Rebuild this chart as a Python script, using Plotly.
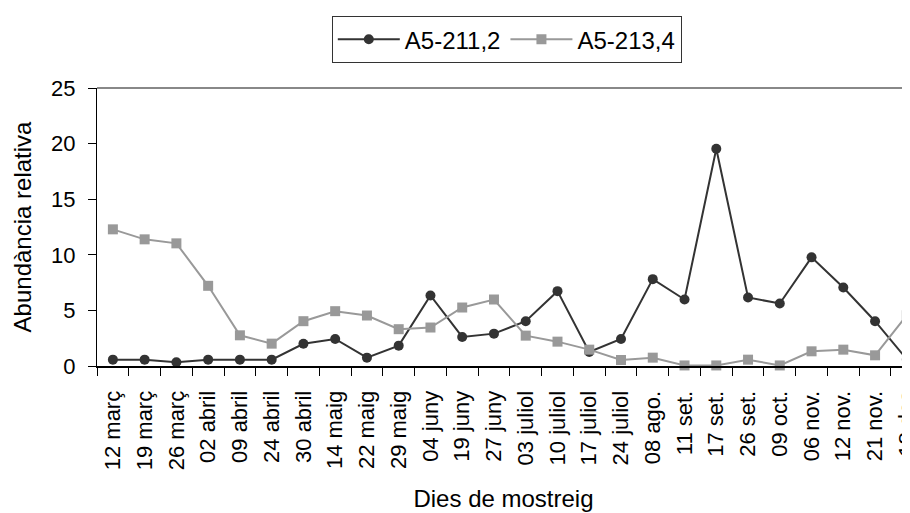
import plotly.graph_objects as go

dates = ["12 març", "19 març", "26 març", "02 abril", "09 abril", "24 abril", "30 abril",
         "14 maig", "22 maig", "29 maig", "04 juny", "19 juny", "27 juny", "03 juliol",
         "10 juliol", "17 juliol", "24 juliol", "08 ago.", "11 set.", "17 set.", "26 set.",
         "09 oct.", "06 nov.", "12 nov.", "21 nov.", "18 des"]

a5_211_2 = [0.57, 0.57, 0.33, 0.57, 0.57, 0.57, 2.0, 2.43, 0.75, 1.83, 6.34, 2.61, 2.91,
            4.03, 6.73, 1.26, 2.43, 7.81, 5.98, 19.53, 6.16, 5.62, 9.77, 7.06, 4.03, 0.6]

a5_213_4 = [12.29, 11.39, 11.03, 7.21, 2.76, 2.01, 4.03, 4.93, 4.54, 3.31, 3.46, 5.26, 5.98,
            2.73, 2.19, 1.47, 0.54, 0.75, 0.05, 0.05, 0.57, 0.05, 1.32, 1.47, 0.96, 4.57]

y_ticks = [0, 5, 10, 15, 20, 25]

FONT = "Liberation Sans, Arial, sans-serif"

fig = go.Figure()
fig.add_trace(go.Scatter(
    x=dates, y=a5_211_2, name="A5-211,2", mode="lines+markers",
    line=dict(color="#333333", width=2),
    marker=dict(symbol="circle", size=10, color="#333333"),
    cliponaxis=False,
))
fig.add_trace(go.Scatter(
    x=dates, y=a5_213_4, name="A5-213,4", mode="lines+markers",
    line=dict(color="#999999", width=2),
    marker=dict(symbol="square", size=10, color="#999999"),
    cliponaxis=False,
))

# page body has an 8px margin, so the figure is sized to end at the window edge
fig.update_layout(
    width=902, height=505,
    margin=dict(l=89, r=0, t=80, b=147, autoexpand=False),
    paper_bgcolor="white", plot_bgcolor="white",
    font=dict(family=FONT, size=22, color="#000000"),
    showlegend=True,
    legend=dict(
        orientation="h", xref="container", yref="container",
        x=0.553, xanchor="center", y=0.984, yanchor="top",
        bordercolor="#333333", borderwidth=1, bgcolor="white",
        font=dict(family=FONT, size=24, color="#000000"),
        itemwidth=62, tracegroupgap=0,
    ),
    shapes=[dict(type="line", xref="paper", yref="paper", x0=0, x1=1, y0=1, y1=1,
                 line=dict(color="#888888", width=2))],
)

fig.update_xaxes(
    type="category", range=[-0.5, 25.1], automargin=False,
    tickmode="array", tickvals=dates, ticktext=dates,
    tickangle=-90, tickson="boundaries",
    ticks="outside", ticklen=8, tickcolor="#000000", tickwidth=1,
    ticklabelstandoff=14,
    showline=True, linecolor="#000000", linewidth=2,
    showgrid=False, zeroline=False,
    tickfont=dict(family=FONT, size=22, color="#000000"),
    title=dict(text="Dies de mostreig", font=dict(family=FONT, size=24, color="#000000"), standoff=21),
)
fig.update_yaxes(
    range=[0, 25], automargin=False, tickmode="array", tickvals=y_ticks,
    ticks="outside", ticklen=8, tickcolor="#000000", tickwidth=1,
    ticklabelstandoff=8,
    showline=True, linecolor="#000000", linewidth=1,
    showgrid=False, zeroline=False,
    tickfont=dict(family=FONT, size=22, color="#000000"),
    title=dict(text="Abundància relativa", font=dict(family=FONT, size=24, color="#000000"), standoff=12),
)

fig.write_html("out.html")
